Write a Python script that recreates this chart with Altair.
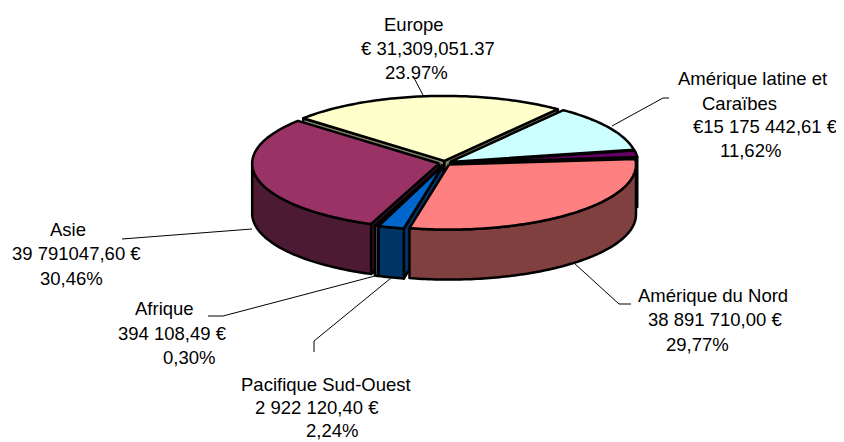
import math
import altair as alt
import pandas as pd

# ---- data ----
names = ["Europe", "Amérique latine et Caraïbes", "Autre", "Amérique du Nord",
         "Pacifique Sud-Ouest", "Afrique", "Asie"]
shares = [23.97, 11.62, 1.64, 29.77, 2.24, 0.30, 30.46]
top_colors = ["#FFFFCC", "#CCFFFF", "#660066", "#FF8080", "#0066CC", "#9999FF", "#993366"]
side_colors = ["#808066", "#668080", "#330033", "#804040", "#003366", "#4D4D80", "#4D1A33"]
paint_order = [0, 1, 2, 6, 5, 4, 3]

label_lines = ["Europe", "€ 31,309,051.37", "23.97%",
               "Amérique latine et", "Caraïbes", "€15 175 442,61 €", "11,62%",
               "Amérique du Nord", "38 891 710,00  €", "29,77%",
               "Asie", "39 791047,60 €", "30,46%",
               "Afrique", "394 108,49 €", "0,30%",
               "Pacifique Sud-Ouest", "2 922 120,40 €", "2,24%"]
label_x = [384, 361, 385, 678, 702, 693, 720, 638, 648, 666, 50, 12, 40, 135, 118, 163, 241, 255, 306]
label_y = [25, 49, 73, 79, 104, 127, 151, 296, 320, 345, 230, 254, 279, 309, 334, 358, 385, 408, 431]

leaders = [
    [(413, 76), (424, 97)],
    [(612, 126), (663, 98), (669, 98)],
    [(574, 263), (619, 304), (631, 304)],
    [(252, 229), (122, 239)],
    [(375, 276), (223, 316), (208, 316)],
    [(391, 278), (314, 341), (314, 352)],
]

# ---- pie geometry ----
CX, CY, RX, RY, DEPTH, EXPLODE = 445, 163, 187, 65, 50, 6
START = -49.0


def pt(angle, ox, oy, drop=0.0, r=1.0):
    a = math.radians(angle)
    return (CX + ox + RX * r * math.sin(a), CY + oy - RY * r * math.cos(a) + drop)


def arc(a0, a1, ox, oy, drop=0.0):
    n = max(2, int(abs(a1 - a0)) + 2)
    return [pt(a0 + (a1 - a0) * i / (n - 1), ox, oy, drop) for i in range(n)]


polys = []
bounds = []
cur = START
for s in shares:
    bounds.append((cur, cur + s * 3.6))
    cur += s * 3.6

for idx in paint_order:
    a0, a1 = bounds[idx]
    mid = math.radians((a0 + a1) / 2)
    ox = EXPLODE * math.sin(mid)
    oy = -EXPLODE * RY / RX * math.cos(mid)
    hub = pt(0, ox, oy, 0, 0)
    hub_low = (hub[0], hub[1] + DEPTH)
    side = side_colors[idx]
    # radial walls that face the viewer
    if math.sin(math.radians(a0)) < 0:
        p, q = pt(a0, ox, oy), pt(a0, ox, oy, DEPTH)
        polys.append(([hub, p, q, hub_low], side))
    if math.sin(math.radians(a1)) > 0:
        p, q = pt(a1, ox, oy), pt(a1, ox, oy, DEPTH)
        polys.append(([hub, p, q, hub_low], side))
    # outer wall: only the part on the front half
    for lo, hi in [(90, 270), (450, 630)]:
        w0, w1 = max(a0, lo), min(a1, hi)
        if w0 < w1:
            polys.append((arc(w0, w1, ox, oy) + arc(w1, w0, ox, oy, DEPTH), side))
    # top face
    polys.append(([hub] + arc(a0, a1, ox, oy), top_colors[idx]))

X_DOM = [8, 836]
Y_DOM = [442, 8]
xs = alt.Scale(domain=X_DOM, nice=False, zero=False)
ys = alt.Scale(domain=Y_DOM, nice=False, zero=False)

layers = []
for points, fill in polys:
    closed = points + [points[0]]
    df = pd.DataFrame({"x": [p[0] for p in closed], "y": [p[1] for p in closed],
                       "i": range(len(closed))})
    layers.append(
        alt.Chart(df).mark_line(fill=fill, stroke="black", strokeWidth=2.5, strokeJoin="round", clip=False)
        .encode(x=alt.X("x:Q", scale=xs, axis=None), y=alt.Y("y:Q", scale=ys, axis=None), order="i:O")
    )

for line in leaders:
    df = pd.DataFrame({"x": [p[0] for p in line], "y": [p[1] for p in line], "i": range(len(line))})
    layers.append(
        alt.Chart(df).mark_line(color="black", strokeWidth=1)
        .encode(x=alt.X("x:Q", scale=xs, axis=None), y=alt.Y("y:Q", scale=ys, axis=None), order="i:O")
    )

text_df = pd.DataFrame({"x": label_x, "y": label_y, "t": label_lines})
layers.append(
    alt.Chart(text_df).mark_text(align="left", baseline="middle", font="Liberation Sans", fontSize=18.5, color="black")
    .encode(x=alt.X("x:Q", scale=xs, axis=None), y=alt.Y("y:Q", scale=ys, axis=None), text="t:N")
)

chart = alt.layer(*layers).properties(
    width=828, height=434, padding=0, autosize=alt.AutoSizeParams(type="none")
).configure_view(stroke=None)

chart.save("out.html", embed_options={"renderer": "svg", "actions": False})
